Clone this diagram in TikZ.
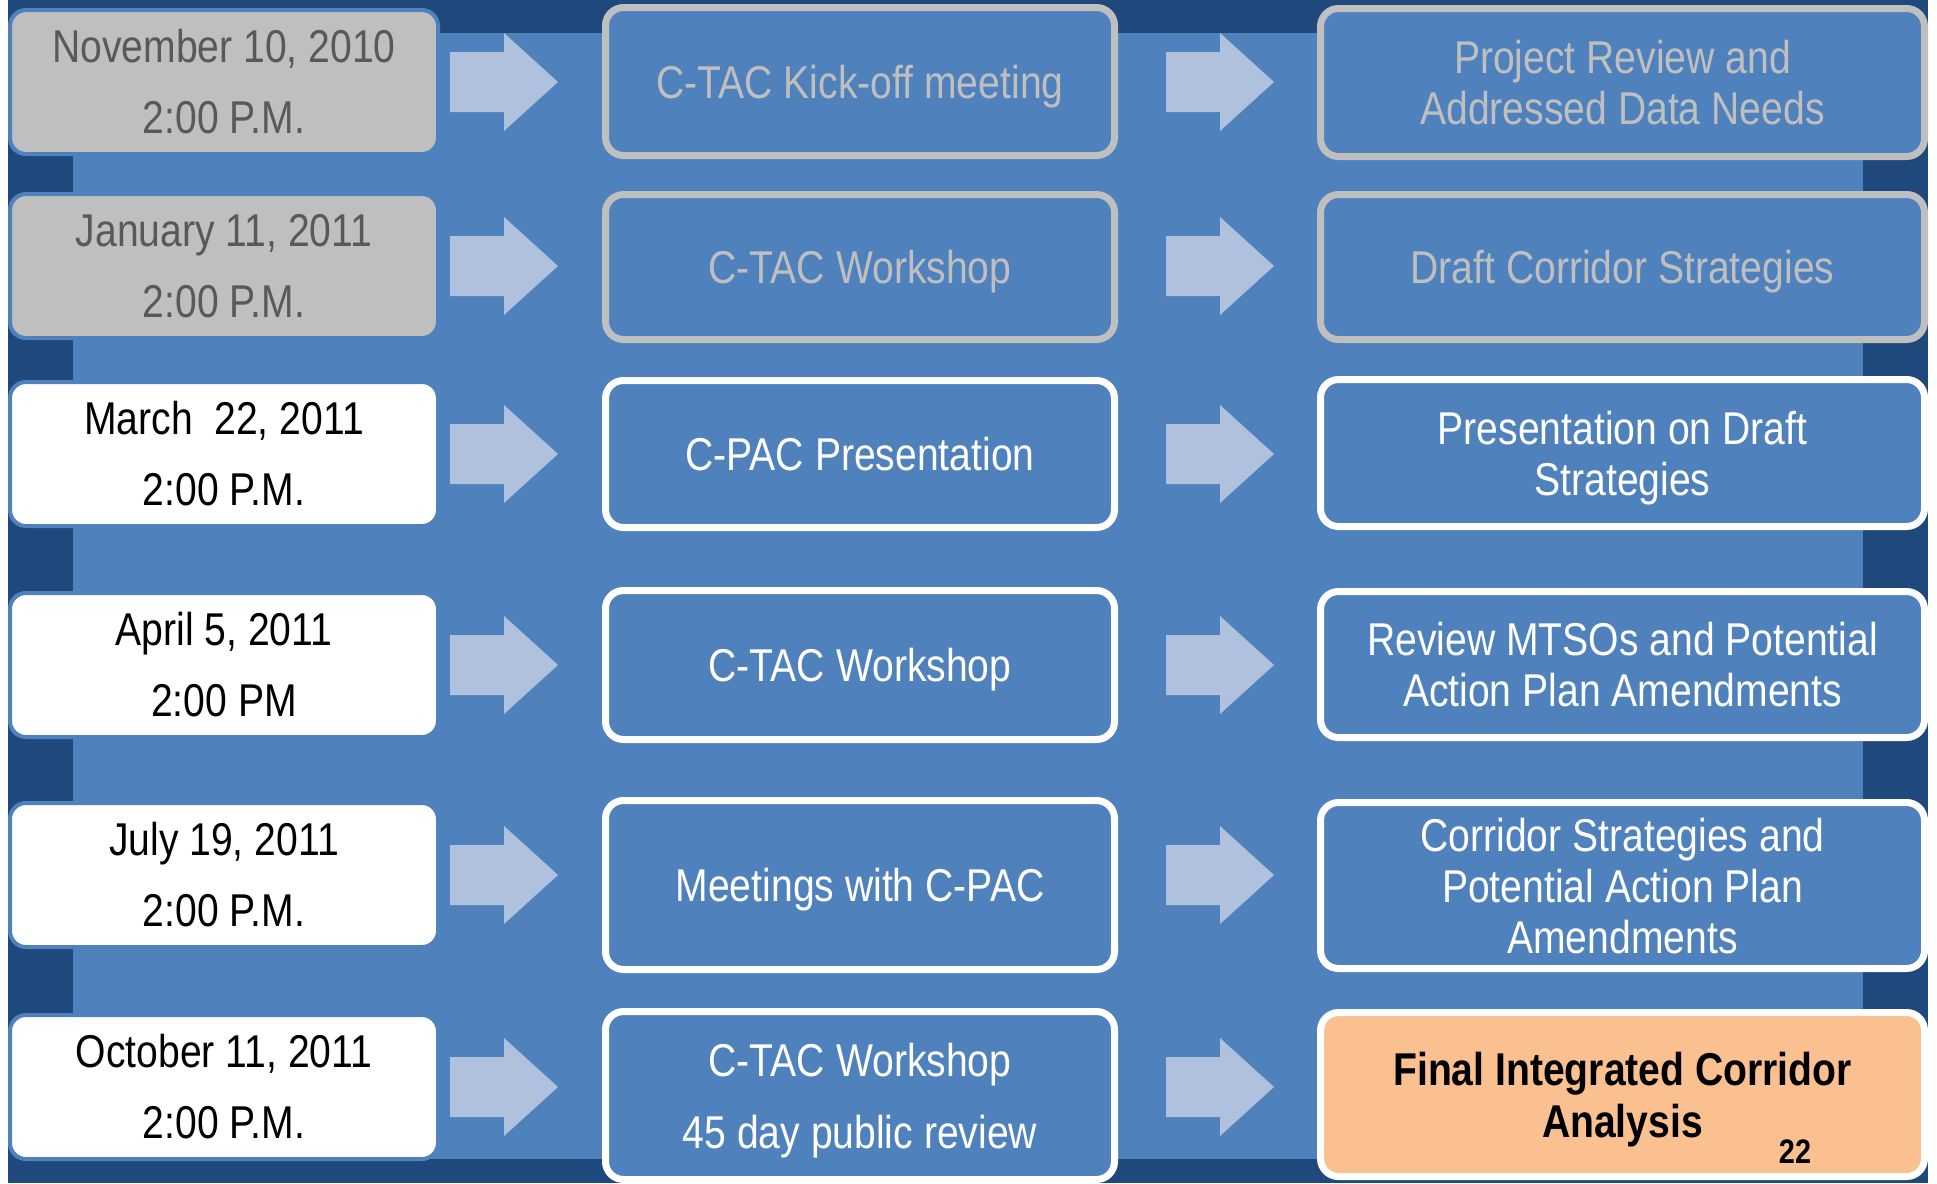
\documentclass[tikz,border=0pt]{standalone}
\usepackage{fontspec}
\setmainfont{Liberation Sans}[FakeStretch=0.85]
\usetikzlibrary{calc}
\definecolor{navy}{HTML}{1F497D}
\definecolor{panel}{HTML}{4F81BD}
\definecolor{arrowc}{HTML}{B0C1DD}
\definecolor{gry}{HTML}{BFBFBF}
\definecolor{dgry}{HTML}{595959}
\definecolor{peach}{HTML}{FAC090}
\newcommand\blockarr[1]{\fill[arrowc] ($(#1)+(-54,-30)$) -- ($(#1)+(0,-30)$) -- ($(#1)+(0,-49)$) -- ($(#1)+(54,0)$) -- ($(#1)+(0,49)$) -- ($(#1)+(0,30)$) -- ($(#1)+(-54,30)$) -- cycle;}
\begin{document}
\begin{tikzpicture}[x=1pt,y=-1pt,
 datebox/.style={rectangle, rounded corners=16pt, draw=panel, line width=4pt, minimum width=428pt, minimum height=144pt, inner sep=0pt, outer sep=0pt, align=center, font=\fontsize{46}{71}\selectfont},
 pastdate/.style={datebox, fill=gry, text=dgry},
 nowdate/.style={datebox, fill=white, text=black},
 stepbox/.style={rectangle, rounded corners=18pt, line width=7pt, fill=panel, inner sep=0pt, outer sep=0pt, align=center, text depth=0pt, font=\fontsize{46}{51}\selectfont},
 pastbox/.style={stepbox, draw=gry, text=gry},
 nowbox/.style={stepbox, draw=white, text=white},
 midw/.style={minimum width=509pt},
 rightw/.style={minimum width=604pt}]
\useasboundingbox (0,0) rectangle (1937,1183);
\clip (0,0) rectangle (1937,1183);
% background
\fill[white] (0,0) rectangle (1937,1183);
\fill[navy] (8,0) rectangle (1928,1183);
\fill[panel] (73,33) rectangle (1863,1159);
% date boxes
\node[pastdate] (d1) at (224,82) {November 10, 2010\\2:00 P.M.};
\node[pastdate] (d2) at (224,266) {January 11, 2011\\2:00 P.M.};
\node[nowdate] (d3) at (224,454) {March\ \ 22, 2011\\2:00 P.M.};
\node[nowdate] (d4) at (224,665) {April 5, 2011\\2:00 PM};
\node[nowdate] (d5) at (224,875) {July 19, 2011\\2:00 P.M.};
\node[nowdate] (d6) at (224,1087) {October 11, 2011\\2:00 P.M.};
% middle boxes
\node[pastbox, midw, minimum height=148pt] (m1) at (860,81.5) {C-TAC Kick-off meeting};
\node[pastbox, midw, minimum height=145pt] (m2) at (860,267) {C-TAC Workshop};
\node[nowbox, midw, minimum height=147pt] (m3) at (860,454) {C-PAC Presentation};
\node[nowbox, midw, minimum height=149pt] (m4) at (860,665) {C-TAC Workshop};
\node[nowbox, midw, minimum height=169pt] (m5) at (860,885) {Meetings with C-PAC};
\node[nowbox, midw, minimum height=168pt, font=\fontsize{46}{72}\selectfont] (m6) at (860,1095.5) {C-TAC Workshop\\45 day public review};
% right boxes
\node[pastbox, rightw, minimum height=148pt] (r1) at (1622.5,82.5) {Project Review and\\Addressed Data Needs};
\node[pastbox, rightw, minimum height=145pt] (r2) at (1622.5,267) {Draft Corridor Strategies};
\node[nowbox, rightw, minimum height=147pt] (r3) at (1622.5,453) {Presentation on Draft\\Strategies};
\node[nowbox, rightw, minimum height=146pt] (r4) at (1622.5,664.5) {Review MTSOs and Potential\\Action Plan Amendments};
\node[nowbox, rightw, minimum height=166pt] (r5) at (1622.5,885.5) {Corridor Strategies and\\Potential Action Plan\\Amendments};
\node[nowbox, rightw, fill=peach, text=black, font=\bfseries\fontsize{46}{52}\selectfont, minimum height=164pt] (r6) at (1622.5,1094.5) {Final Integrated Corridor\\Analysis};
\node[font=\bfseries\fontsize{34}{36}\selectfont, inner sep=0pt] (pg) at (1795,1152) {22};
% block arrows
\foreach \i in {1,...,6}{
  \coordinate (p\i) at ($(d\i.east)+(66,0)$);
  \coordinate (q\i) at ($(d\i.east)+(782,0)$);
  \blockarr{p\i}
  \blockarr{q\i}
}
\end{tikzpicture}
\end{document}
